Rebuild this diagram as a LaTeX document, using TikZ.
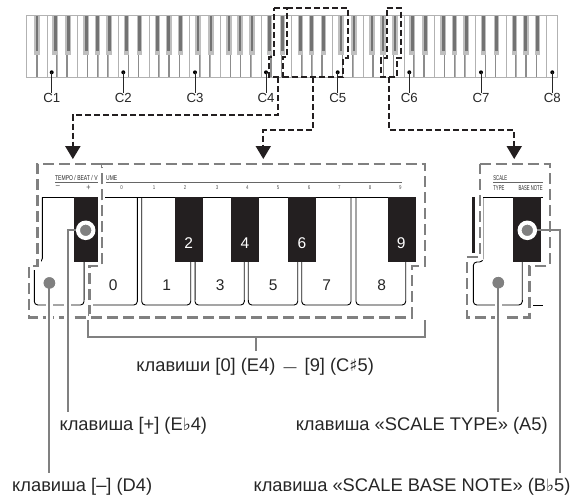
\documentclass[tikz,border=0pt]{standalone}
\usepackage{fontspec}
\setmainfont{Liberation Sans}
\newfontfamily\symf{DejaVu Sans}
\newcommand{\flatm}{{\symf\fontsize{17}{19}\selectfont ♭}}
\newcommand{\sharpm}{{\symf\fontsize{17}{19}\selectfont ♯}}
\definecolor{gk}{HTML}{808080}
\definecolor{bk}{HTML}{231F20}
\tikzset{
 lab/.style={font=\fontsize{18.3}{20}\selectfont,inner sep=0pt,text=black!85},
 clab/.style={font=\fontsize{13.2}{15}\selectfont,inner sep=0pt,text=black!85},
 bignum/.style={font=\fontsize{15.5}{17}\selectfont,inner sep=0pt,text=black!85},
 wnum/.style={bignum,text=white},
 tiny/.style={font=\fontsize{7}{8}\selectfont,inner sep=0pt,xscale=.72,text=black!85},
 tinyr/.style={font=\fontsize{7}{8}\selectfont,inner sep=0pt,xscale=.6,text=black!85},
 tinyd/.style={font=\fontsize{5.5}{6}\selectfont,inner sep=0pt,xscale=.8,text=black!70},
 kdot/.style={circle,fill=black,inner sep=0pt,minimum size=4pt},
 gdot/.style={circle,fill=gk,inner sep=0pt,minimum size=11.5pt},
 rdot/.style={circle,fill=gk,draw=white,line width=4pt,inner sep=0pt,minimum size=15.5pt},
 blackdash/.style={draw=bk,line width=2.2pt,dash pattern=on 6pt off 3pt},
 graydash/.style={draw=gk,line width=2.4pt,dash pattern=on 11pt off 5pt,preaction={draw=white,solid,line width=7pt}},
 leader/.style={draw=gk,line width=2pt,preaction={draw=white,solid,line width=7pt}},
 plainleader/.style={draw=gk,line width=2pt},
 tip/.style={fill=bk,draw=none},
 keyline/.style={draw=black,line width=.9pt,rounded corners=3.5pt},
 riser/.style={draw=gk!80!black,line width=1pt},
 blackkey/.style={fill=bk,draw=none},
 sep/.style={draw=black!45,line width=1.2pt},
 blo/.style={fill=black!25},
 bli/.style={fill=black!55},
}
\begin{document}
\begin{tikzpicture}[x=1pt,y=-1pt]
\useasboundingbox (0,0) rectangle (575,495);
% small keyboard
\foreach \i in {0,...,51}{
  \draw[draw=black!30,line width=.9pt,fill=white] ({26.7+10.2*\i},15.7) rectangle ({26.7+10.2*(\i+1)},77.3);
}
\foreach \x in {36.9}{
  \draw[sep] (\x,54) -- (\x,77);
  \fill[blo] ({\x-2.8},15.7) rectangle ({\x+2.8},55.5);
  \fill[bli] ({\x-1.3},15.7) rectangle ({\x+1.3},51.5);
}
\foreach \o in {0,...,6}{
  \foreach \d/\b in {8.6/10.2,21.6/20.4,39.6/40.8,50.7/51,62.6/61.2}{
    \pgfmathsetmacro{\xx}{46.6+71.4*\o+\d}
    \pgfmathsetmacro{\bb}{46.6+71.4*\o+\b}
    \draw[sep] (\bb,54) -- (\bb,77);
    \fill[blo] ({\xx-2.8},15.7) rectangle ({\xx+2.8},55.5);
    \fill[bli] ({\xx-1.3},15.7) rectangle ({\xx+1.3},51.5);
  }
}
% C labels
\foreach \n/\x in {1/51.7,2/123.3,3/195,4/266,5/337.7,6/409.3,7/481,8/552.3}{
  \node[kdot] (d\n) at (\x,72.3) {};
  \node[clab] (c\n) at (\x,97.7) {C\n};
  \draw[line width=.9pt,draw=black!85] (d\n.center) -- (c\n.north);
}
% black dashed regions
\coordinate (bda) at (278.3,77.3);
\coordinate (bdb) at (313,77.3);
\coordinate (bdc) at (389,77.3);
\coordinate (ta) at (72.7,146);
\coordinate (tb) at (263.3,146);
\coordinate (tc) at (514,146);
\draw[blackdash] (274,8) -- (287,8) -- (287,57) -- (283.3,57) -- (283.3,77.3) -- (269.3,77.3) -- (269.3,57) -- (274,57) -- cycle;
\draw[blackdash] (287,8) -- (348,8) -- (348,58) -- (343,58) -- (343,77.3) -- (283.3,77.3);
\draw[blackdash] (386.7,8) -- (401,8) -- (401,58.3) -- (396.7,58.3) -- (396.7,77.3) -- (380.7,77.3) -- (380.7,58.3) -- (386.7,58.3) -- cycle;
\draw[blackdash] (bda) -- (278.3,115) -- (72.7,115) -- (ta);
\draw[blackdash] (bdb) -- (313,130) -- (263.3,130) -- (tb);
\draw[blackdash] (bdc) -- (389,130) -- (514,130) -- (tc);
\fill[tip] (65,146) -- (80.7,146) -- (72.85,159) -- cycle;
\fill[tip] (255.5,146) -- (271,146) -- (263.3,159) -- cycle;
\fill[tip] (506.5,146) -- (522,146) -- (514.2,159) -- cycle;
% large keys (left group)
\draw[keyline] (42.3,197.3) -- (42.3,262) -- (34.3,262) -- (34.3,305) -- (84,305) -- (84,262);
\draw[keyline] (92,305) -- (137.3,305) -- (137.3,197.3);
\draw[keyline] (141.7,197.3) -- (141.7,305) -- (190.7,305) -- (190.7,262);
\draw[keyline] (195,262) -- (195,305) -- (244.3,305) -- (244.3,262);
\draw[keyline] (248.3,262) -- (248.3,305) -- (297.7,305) -- (297.7,262);
\draw[keyline] (301.7,262) -- (301.7,305) -- (351,305) -- (351,197.3);
\draw[keyline] (356,197.3) -- (356,305) -- (405.7,305) -- (405.7,262);
\foreach \x in {84,190.7,195,244.3,248.3,297.7,301.7,405.7}{\draw[riser] (\x,262) -- (\x,300);}
\draw[line width=1.3pt] (42.3,197.3) -- (416,197.3);
\foreach \a/\b in {74/97.7,175/202.7,231/259.3,287.7/316,387.7/415.7}{
  \fill[blackkey] (\a,196.8) rectangle (\b,262);
}
% right group
\draw[keyline] (483,197.3) -- (483,262) -- (473.3,262) -- (473.3,305) -- (522.3,305) -- (522.3,262);
\draw[riser] (522.3,262) -- (522.3,300);
\draw[line width=.9pt] (533.3,305) -- (543.3,305);
\draw[line width=1.3pt] (483,197.3) -- (543,197.3);
\fill[blackkey] (471.8,197) rectangle (474.8,253);
\fill[blackkey] (512.7,196.8) rectangle (541,262);
% gray dashed regions
\draw[graydash] (101.7,163.7) -- (37.3,163.7) -- (37.3,266) -- (29,266) -- (29,317.3) -- (89.3,317.3) -- (89.3,266) -- (101.7,266) -- cycle;
\draw[graydash] (101.7,163.7) -- (425,163.7) -- (425,266) -- (411.7,266) -- (411.7,317.3) -- (89.3,317.3);
\draw[graydash] (479.7,163.7) -- (550,163.7) -- (550,265.7) -- (529.3,265.7) -- (529.3,317.3) -- (466.7,317.3) -- (466.7,256.7) -- (479.7,256.7) -- cycle;
% printed labels above keys
\node[tiny,anchor=west] (tb1) at (55,178.2) {TEMPO / BEAT / V};
\node[tiny,anchor=west] (tb2) at (106,178.2) {UME};
\draw[line width=.8pt,draw=black!60] (55,182.7) -- (98,182.7);
\draw[line width=.8pt,draw=black!60] (106,182.7) -- (401.7,182.7);
\node[tinyd,font=\fontsize{9}{9}\selectfont] (mn) at (58,187.5) {–};
\node[tinyd,font=\fontsize{9}{9}\selectfont] (pl) at (88.5,187.5) {+};
\foreach \n/\x in {0/121.5,1/154,2/185,3/217,4/247.3,5/278,6/309,7/339.3,8/370,9/400.3}{
  \node[tinyd] (t\n) at (\x,187.5) {\n};
}
\node[tinyr,anchor=west] (sc) at (493.3,178.2) {SCALE};
\draw[line width=.8pt,draw=black!60] (493,182.6) -- (542.7,182.6);
\node[tinyr,anchor=west] (ty) at (493.3,187.6) {TYPE};
\node[tinyr,anchor=east] (bn) at (542.7,187.6) {BASE NOTE};
% numbers on keys
\foreach \n/\x in {0/113.3,1/166.7,3/220.3,5/273.3,7/326.7,8/381.7}{\node[bignum] (k\n) at (\x,285) {\n};}
\foreach \n/\x in {2/188.7,4/245,6/302,9/401.3}{\node[wnum] (k\n) at (\x,242.7) {\n};}
% labels
\node[lab] (lzero) at (255.2,366.7) {клавиши [0] (E4) \,{\fontsize{13}{15}\selectfont —}\, [9] (C\sharpm 5)};
\node[lab] (lplus) at (133.3,426) {клавиша [+] (E\flatm 4)};
\node[lab] (ltype) at (421.7,426) {клавиша «SCALE TYPE» (A5)};
\node[lab] (lminus) at (82.2,487) {клавиша [–] (D4)};
\node[lab] (lbase) at (412,487) {клавиша «SCALE BASE NOTE» (B\flatm 5)};
% leaders
\coordinate (eplus) at (67.7,411.7);
\coordinate (eminus) at (49.4,472.7);
\coordinate (etype) at (498.3,411.7);
\coordinate (ebase) at (559.5,472.7);
\coordinate (bl) at (88.3,320);
\coordinate (br) at (424.5,320);
\coordinate (bt) at (255.6,350.7);
\coordinate (bm) at (255.6,337.3);
\draw[leader,line join=miter] (bl) -- (88.3,337.3) -- (424.5,337.3) -- (br);
\draw[plainleader] (bm) -- (bt);
\node[gdot] (dm) at (49.4,283) {};
\node[gdot] (dt) at (498.3,282.7) {};
\node[rdot] (rp) at (85.7,230.3) {};
\node[rdot] (rb) at (527.3,230.3) {};
\draw[leader] (dm.center) -- (eminus);
\draw[leader] (dt.center) -- (etype);
\node[gdot] at (dm) {};
\node[gdot] at (dt) {};
\draw[plainleader] (rp.west) -- (67.7,230.3) -- (67.7,300);
\draw[leader] (67.7,300) -- (eplus);
\draw[plainleader] (rb.east) -- (559.5,230.3) -- (559.5,300);
\draw[leader] (559.5,300) -- (ebase);
\end{tikzpicture}
\end{document}
